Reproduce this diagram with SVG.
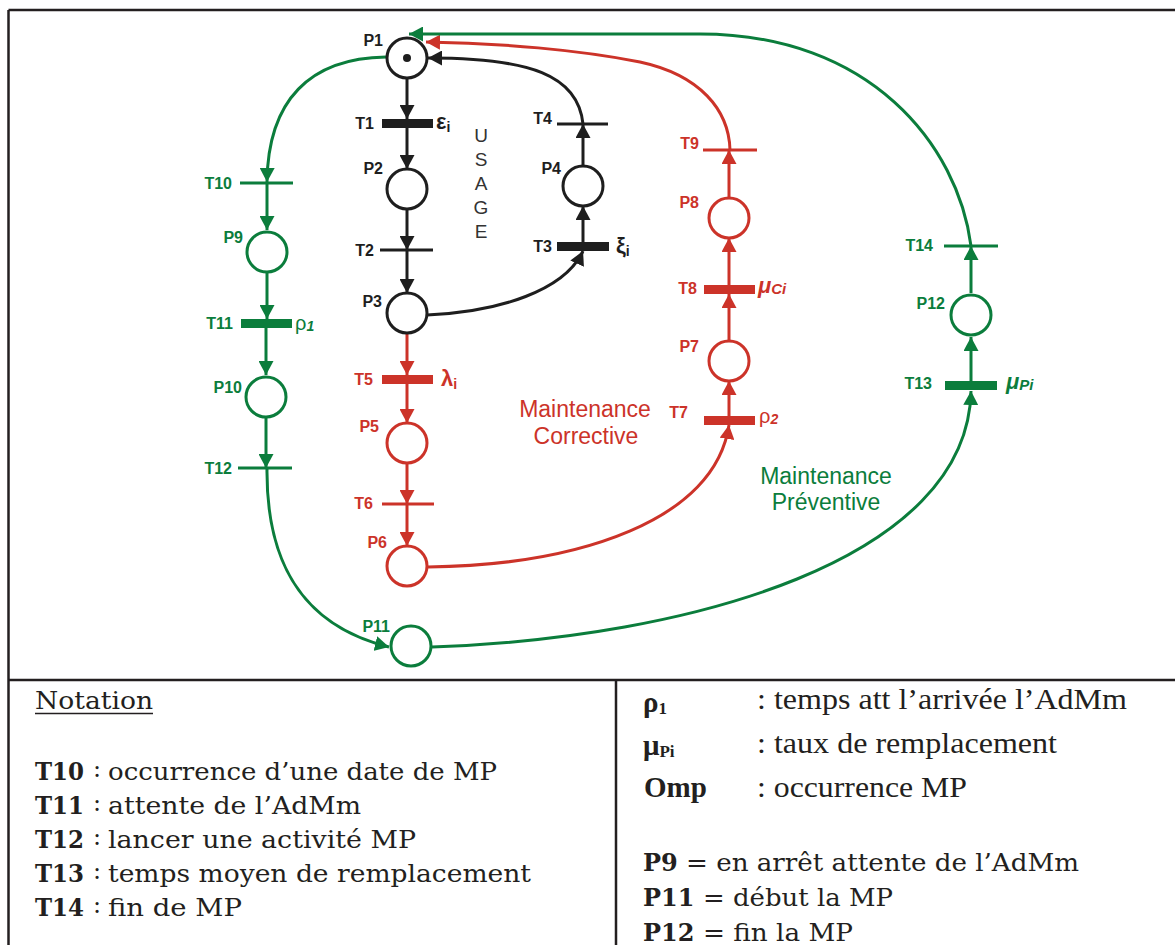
<svg xmlns="http://www.w3.org/2000/svg" width="1175" height="945" viewBox="0 0 1175 945">
<style>
.frame{stroke:#231f20;stroke-width:2.5;fill:none}
.pk{fill:#fff;stroke:#1e1e1e;stroke-width:3}
.pr{fill:#fff;stroke:#cc3329;stroke-width:3}
.pg{fill:#fff;stroke:#0b7d3c;stroke-width:3}
.bk{fill:#1e1e1e}.br{fill:#cc3329}.bg{fill:#0b7d3c}
.tk{stroke:#1e1e1e;stroke-width:3}.tr{stroke:#cc3329;stroke-width:3}.tg{stroke:#0b7d3c;stroke-width:3}
.ck{stroke:#1e1e1e;stroke-width:3;fill:none;marker-end:url(#ak)}
.cr{stroke:#cc3329;stroke-width:3;fill:none;marker-end:url(#ar)}
.cg{stroke:#0b7d3c;stroke-width:3;fill:none;marker-end:url(#ag)}
.lb{font-family:"Liberation Sans",Arial,sans-serif;font-weight:bold;font-size:16px}
.lk{fill:#1e1e1e}.lr{fill:#cc3329}.lg{fill:#0b7d3c}
.big{font-family:"Liberation Sans",Arial,sans-serif;font-size:23px}
.gr{font-family:"Liberation Sans",Arial,sans-serif;font-weight:bold;font-size:22px}
.sub{font-size:14px}
.cs{font-family:"DejaVu Serif",serif;font-size:24px;fill:#231f20}
.csb{font-family:"DejaVu Serif",serif;font-size:24px;font-weight:bold;fill:#231f20}
.tm{font-family:"Liberation Serif","Times New Roman",serif;font-size:29px;fill:#231f20}
.tmb{font-family:"Liberation Serif","Times New Roman",serif;font-size:29px;font-weight:bold;fill:#231f20}
</style>
<defs>
<marker id="ak" markerUnits="userSpaceOnUse" markerWidth="15" markerHeight="15" refX="14" refY="7.5" orient="auto"><path d="M0,0 L14,7.5 L0,15 z" fill="#1e1e1e"/></marker>
<marker id="ar" markerUnits="userSpaceOnUse" markerWidth="15" markerHeight="15" refX="14" refY="7.5" orient="auto"><path d="M0,0 L14,7.5 L0,15 z" fill="#cc3329"/></marker>
<marker id="ag" markerUnits="userSpaceOnUse" markerWidth="15" markerHeight="15" refX="14" refY="7.5" orient="auto"><path d="M0,0 L14,7.5 L0,15 z" fill="#0b7d3c"/></marker>
</defs>
<rect width="1175" height="945" fill="#fff"/>
<g id="frame">
<line class="frame" x1="8.5" y1="10" x2="1175" y2="10"/>
<line class="frame" x1="8.5" y1="10" x2="8.5" y2="945"/>
<line class="frame" x1="8.5" y1="680" x2="1175" y2="680"/>
<line class="frame" x1="616" y1="680" x2="616" y2="945"/>
</g>
<g id="connectors">
<path class="ck" d="M407,78 L407,119"/>
<path class="ck" d="M407,128 L407,169"/>
<path class="ck" d="M407,209 L407,250"/>
<path class="ck" d="M407,250 L407,293"/>
<path class="ck" d="M427,315 C500,312 565,290 583,251"/>
<path class="ck" d="M583,242 L583,206"/>
<path class="ck" d="M583,166 L583,124"/>
<path class="ck" d="M583,124 C578,75 530,58 428,58"/>
<path class="cr" d="M407,333 L407,375"/>
<path class="cr" d="M407,384 L407,423"/>
<path class="cr" d="M407,463 L407,504"/>
<path class="cr" d="M407,504 L407,546"/>
<path class="cr" d="M428,567 C580,565 715,520 729,425"/>
<path class="cr" d="M729,416 L729,381"/>
<path class="cr" d="M729,341 L729,294"/>
<path class="cr" d="M729,285 L729,238"/>
<path class="cr" d="M729,198 L729,150"/>
<path class="cr" d="M730,150 C729,110 700,75 640,62 C580,50 500,43 426,42"/>
<path class="cg" d="M386,57 C310,58 268,100 267,182"/>
<path class="cg" d="M267,183 L267,230"/>
<path class="cg" d="M267,272 L267,319"/>
<path class="cg" d="M266,328 L266,375"/>
<path class="cg" d="M266,417 L266,468"/>
<path class="cg" d="M267,468 C266,560 300,625 389,647"/>
<path class="cg" d="M432,647 C690,638 968,560 971,391"/>
<path class="cg" d="M971,381 L971,337"/>
<path class="cg" d="M971,293 L971,246"/>
<path class="cg" d="M971,246 C958,145 870,34 700,34 L409,34"/>
</g>
<g id="P1"><circle class="pk" cx="407" cy="58" r="20"/><circle cx="407" cy="58" r="4" fill="#1e1e1e"/><text class="lb lk" x="383" y="46" text-anchor="end">P1</text></g>
<g id="T1"><rect class="bk" x="382" y="119" width="51" height="9"/><text class="lb lk" x="374" y="129" text-anchor="end">T1</text><text class="gr lk" x="436" y="129">ε<tspan class="sub" dy="3">i</tspan></text></g>
<g id="P2"><circle class="pk" cx="407" cy="189" r="20"/><text class="lb lk" x="383" y="174" text-anchor="end">P2</text></g>
<g id="T2"><line class="tk" x1="380" y1="250" x2="433" y2="250"/><text class="lb lk" x="374" y="256" text-anchor="end">T2</text></g>
<g id="P3"><circle class="pk" cx="407" cy="313" r="20"/><text class="lb lk" x="382" y="307" text-anchor="end">P3</text></g>
<g id="T3"><rect class="bk" x="557" y="242" width="52" height="9"/><text class="lb lk" x="552" y="252" text-anchor="end">T3</text><text class="gr lk" x="616" y="253">ξ<tspan class="sub" dy="3">i</tspan></text></g>
<g id="P4"><circle class="pk" cx="583" cy="186" r="20"/><text class="lb lk" x="561" y="174" text-anchor="end">P4</text></g>
<g id="T4"><line class="tk" x1="557" y1="124" x2="608" y2="124"/><text class="lb lk" x="552" y="124" text-anchor="end">T4</text></g>
<g id="usage" font-family="Liberation Sans, Arial, sans-serif" font-size="19" fill="#333" text-anchor="middle"><text x="481" y="142">U</text><text x="481" y="166">S</text><text x="481" y="190">A</text><text x="481" y="214">G</text><text x="481" y="238">E</text></g>
<g id="T5"><rect class="br" x="382" y="375" width="51" height="9"/><text class="lb lr" x="373" y="385" text-anchor="end">T5</text><text class="gr lr" x="441" y="386">λ<tspan class="sub" dy="3">i</tspan></text></g>
<g id="P5"><circle class="pr" cx="407" cy="443" r="20"/><text class="lb lr" x="379" y="432" text-anchor="end">P5</text></g>
<g id="T6"><line class="tr" x1="382" y1="504" x2="434" y2="504"/><text class="lb lr" x="373" y="509" text-anchor="end">T6</text></g>
<g id="P6"><circle class="pr" cx="407" cy="566" r="20"/><text class="lb lr" x="387" y="548" text-anchor="end">P6</text></g>
<g id="T7"><rect class="br" x="704" y="416" width="51" height="9"/><text class="lb lr" x="688" y="418" text-anchor="end" font-size="14">T7</text><text class="lr" font-family="Liberation Sans, Arial, sans-serif" font-size="20" x="759" y="423">ρ<tspan font-size="14" font-weight="bold" font-style="italic" dy="1">2</tspan></text></g>
<g id="P7"><circle class="pr" cx="729" cy="361" r="20"/><text class="lb lr" x="699" y="352" text-anchor="end">P7</text></g>
<g id="T8"><rect class="br" x="704" y="285" width="51" height="9"/><text class="lb lr" x="697" y="294" text-anchor="end">T8</text><text class="gr lr" font-style="italic" x="758" y="293">μ<tspan font-size="15" dy="1">Ci</tspan></text></g>
<g id="P8"><circle class="pr" cx="729" cy="218" r="20"/><text class="lb lr" x="699" y="208" text-anchor="end">P8</text></g>
<g id="T9"><line class="tr" x1="703" y1="150" x2="757" y2="150"/><text class="lb lr" x="699" y="149" text-anchor="end">T9</text></g>
<g id="maint-corr" class="big lr" text-anchor="middle"><text x="585" y="417">Maintenance</text><text x="586" y="444">Corrective</text></g>
<g id="T10"><line class="tg" x1="240" y1="183" x2="293" y2="183"/><text class="lb lg" x="232" y="189" text-anchor="end">T10</text></g>
<g id="P9"><circle class="pg" cx="267" cy="252" r="20"/><text class="lb lg" x="243" y="243" text-anchor="end">P9</text></g>
<g id="T11"><rect class="bg" x="241" y="319" width="51" height="9"/><text class="lb lg" x="233" y="329" text-anchor="end">T11</text><text class="lg" font-family="Liberation Sans, Arial, sans-serif" font-size="20" x="295" y="330">ρ<tspan font-size="14" font-weight="bold" font-style="italic" dy="1">1</tspan></text></g>
<g id="P10"><circle class="pg" cx="266" cy="397" r="20"/><text class="lb lg" x="242" y="393" text-anchor="end">P10</text></g>
<g id="T12"><line class="tg" x1="238" y1="468" x2="292" y2="468"/><text class="lb lg" x="232" y="474" text-anchor="end">T12</text></g>
<g id="P11"><circle class="pg" cx="411" cy="646" r="20"/><text class="lb lg" x="390" y="632" text-anchor="end">P11</text></g>
<g id="T13"><rect class="bg" x="945" y="381" width="52" height="9"/><text class="lb lg" x="932" y="389" text-anchor="end">T13</text><text class="gr lg" font-style="italic" x="1006" y="389">μ<tspan font-size="15" dy="1">Pi</tspan></text></g>
<g id="P12"><circle class="pg" cx="971" cy="315" r="20"/><text class="lb lg" x="945" y="309" text-anchor="end">P12</text></g>
<g id="T14"><line class="tg" x1="944" y1="246" x2="998" y2="246"/><text class="lb lg" x="933" y="251" text-anchor="end">T14</text></g>
<g id="maint-prev" class="big lg" text-anchor="middle"><text x="826" y="484">Maintenance</text><text x="826" y="510">Préventive</text></g>
<g id="legend-left">
<text class="cs" x="35" y="709" textLength="118" lengthAdjust="spacingAndGlyphs">Notation</text>
<line x1="35" y1="713.5" x2="153" y2="713.5" stroke="#231f20" stroke-width="1.5"/>
<text class="csb" x="35" y="780" textLength="49" lengthAdjust="spacingAndGlyphs">T10</text><text class="cs" x="93" y="777" font-size="16">:</text><text class="cs" x="108" y="780" textLength="389" lengthAdjust="spacingAndGlyphs">occurrence d’une date de MP</text>
<text class="csb" x="35" y="814" textLength="49" lengthAdjust="spacingAndGlyphs">T11</text><text class="cs" x="93" y="811" font-size="16">:</text><text class="cs" x="108" y="814" textLength="253" lengthAdjust="spacingAndGlyphs">attente de l’AdMm</text>
<text class="csb" x="35" y="848" textLength="49" lengthAdjust="spacingAndGlyphs">T12</text><text class="cs" x="93" y="845" font-size="16">:</text><text class="cs" x="108" y="848" textLength="308" lengthAdjust="spacingAndGlyphs">lancer une activité MP</text>
<text class="csb" x="35" y="882" textLength="49" lengthAdjust="spacingAndGlyphs">T13</text><text class="cs" x="93" y="879" font-size="16">:</text><text class="cs" x="108" y="882" textLength="423" lengthAdjust="spacingAndGlyphs">temps moyen de remplacement</text>
<text class="csb" x="35" y="916" textLength="49" lengthAdjust="spacingAndGlyphs">T14</text><text class="cs" x="93" y="913" font-size="16">:</text><text class="cs" x="108" y="916" textLength="134" lengthAdjust="spacingAndGlyphs">fin de MP</text>
</g>
<g id="legend-right">
<text class="tmb" x="643" y="712">ρ<tspan font-size="17" dy="2">1</tspan></text>
<text class="tm" x="757" y="709" textLength="370" lengthAdjust="spacingAndGlyphs">: temps att l’arrivée l’AdMm</text>
<text class="tmb" x="643" y="755">μ<tspan font-size="17" dy="2">Pi</tspan></text>
<text class="tm" x="757" y="753" textLength="300" lengthAdjust="spacingAndGlyphs">: taux de remplacement</text>
<text class="tmb" x="644" y="797">Omp</text>
<text class="tm" x="757" y="797" textLength="210" lengthAdjust="spacingAndGlyphs">: occurrence MP</text>
<text class="csb" x="643" y="871">P9</text><text class="cs" x="686" y="871" textLength="393" lengthAdjust="spacingAndGlyphs">= en arrêt attente de l’AdMm</text>
<text class="csb" x="643" y="906">P11</text><text class="cs" x="703" y="906" textLength="190" lengthAdjust="spacingAndGlyphs">=  début la MP</text>
<text class="csb" x="643" y="941">P12</text><text class="cs" x="703" y="941" textLength="150" lengthAdjust="spacingAndGlyphs">= fin la MP</text>
</g>
</svg>
